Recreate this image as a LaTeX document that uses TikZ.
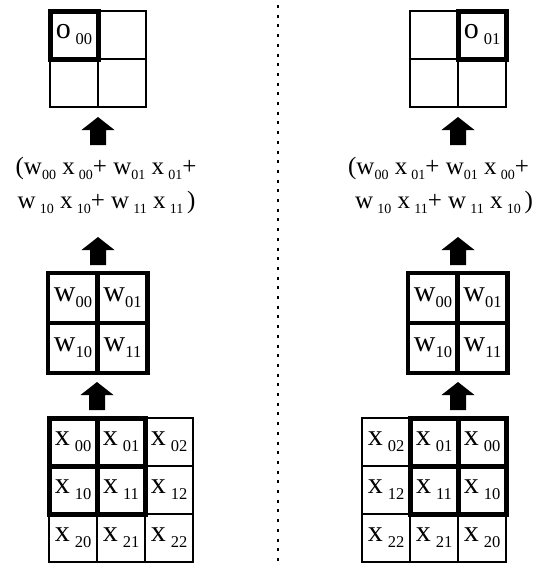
\documentclass[tikz,border=0pt]{standalone}
\usepackage{fontspec}
\setmainfont{Liberation Serif}
\newcommand\cs[1]{\raisebox{-6pt}{\fontsize{16.5}{16.5}\selectfont #1}}
\newcommand\ts[1]{\raisebox{-5pt}{\fontsize{14}{14}\selectfont #1}}
\begin{document}
\begin{tikzpicture}[x=1pt,y=-1pt,
  cell/.style={draw, line width=2pt, minimum size=48pt, inner sep=0pt, outer sep=0pt,
    font=\fontsize{30}{30}\selectfont},
  wcell/.style={cell, line width=4.5pt, minimum size=50pt},
  bold/.style={line width=5pt},
  eqtext/.style={anchor=base, inner sep=0pt, font=\fontsize{25}{25}\selectfont},
  divider/.style={line width=1.6pt, dash pattern=on 3pt off 6.7pt},
  uparr/.pic={\fill (0,0) -- (16.5,13) -- (8,13) -- (8,28) -- (-8,28) -- (-8,13) -- (-16.5,13) -- cycle;}]
\useasboundingbox (0,0) rectangle (537,565);

% divider
\coordinate (dtop) at (278,5);
\coordinate (dbot) at (278,565);
\draw[divider] (dtop) -- (dbot);

% ---------- left ----------
\node[cell] (lo00) at (74,35) {o\,\cs{00}};
\node[cell] (lo01) at (122,35) {};
\node[cell] (lo10) at (74,83) {};
\node[cell] (lo11) at (122,83) {};
\draw[bold] (lo00.north west) rectangle (lo00.south east);

\pic at (98,117) {uparr};

\node[eqtext] (lt1) at (106,174) {(w\ts{00}\hspace{0.25em}x\,\ts{00}+ w\ts{01}\hspace{0.25em}x\,\ts{01}+};
\node[eqtext] (lt2) at (106.5,208) {w\,\ts{10}\hspace{0.25em}x\,\ts{10}+ w\,\ts{11}\hspace{0.25em}x\,\ts{11}\hspace{0.15em})};

\pic at (98,237) {uparr};

\node[wcell] (lw00) at (73,298) {w\cs{00}};
\node[wcell] (lw01) at (122.5,298) {w\cs{01}};
\node[wcell] (lw10) at (73,348) {w\cs{10}};
\node[wcell] (lw11) at (122.5,348) {w\cs{11}};

\pic at (97,382) {uparr};

\node[cell] (lx00) at (73,442) {x\,\cs{00}};
\node[cell] (lx01) at (121,442) {x\,\cs{01}};
\node[cell] (lx02) at (169,442) {x\,\cs{02}};
\node[cell] (lx10) at (73,490) {x\,\cs{10}};
\node[cell] (lx11) at (121,490) {x\,\cs{11}};
\node[cell] (lx12) at (169,490) {x\,\cs{12}};
\node[cell] (lx20) at (73,538) {x\,\cs{20}};
\node[cell] (lx21) at (121,538) {x\,\cs{21}};
\node[cell] (lx22) at (169,538) {x\,\cs{22}};
\draw[bold] (lx00.north west) rectangle (lx11.south east);
\draw[bold] (lx00.north east) -- (lx11.south west -| lx00.north east);
\draw[bold] (lx00.south west) -- (lx00.south west -| lx11.south east);

% ---------- right ----------
\node[cell] (ro00) at (434,35) {};
\node[cell] (ro01) at (482,35) {o\,\cs{01}};
\node[cell] (ro10) at (434,83) {};
\node[cell] (ro11) at (482,83) {};
\draw[bold] (ro01.north west) rectangle (ro01.south east);

\pic at (458,117) {uparr};

\node[eqtext] (rt1) at (438.5,174) {(w\ts{00}\hspace{0.25em}x\,\ts{01}+ w\ts{01}\hspace{0.25em}x\,\ts{00}+};
\node[eqtext] (rt2) at (444,208) {w\,\ts{10}\hspace{0.25em}x\,\ts{11}+ w\,\ts{11}\hspace{0.25em}x\,\ts{10}\hspace{0.15em})};

\pic at (458,237) {uparr};

\node[wcell] (rw00) at (433,298) {w\cs{00}};
\node[wcell] (rw01) at (482.5,298) {w\cs{01}};
\node[wcell] (rw10) at (433,348) {w\cs{10}};
\node[wcell] (rw11) at (482.5,348) {w\cs{11}};

\pic at (458,382) {uparr};

\node[cell] (rx02) at (386,442) {x\,\cs{02}};
\node[cell] (rx01) at (434,442) {x\,\cs{01}};
\node[cell] (rx00) at (482,442) {x\,\cs{00}};
\node[cell] (rx12) at (386,490) {x\,\cs{12}};
\node[cell] (rx11) at (434,490) {x\,\cs{11}};
\node[cell] (rx10) at (482,490) {x\,\cs{10}};
\node[cell] (rx22) at (386,538) {x\,\cs{22}};
\node[cell] (rx21) at (434,538) {x\,\cs{21}};
\node[cell] (rx20) at (482,538) {x\,\cs{20}};
\draw[bold] (rx01.north west) rectangle (rx10.south east);
\draw[bold] (rx01.north east) -- (rx01.north east |- rx10.south east);
\draw[bold] (rx01.south west) -- (rx01.south west -| rx10.south east);
\end{tikzpicture}
\end{document}
